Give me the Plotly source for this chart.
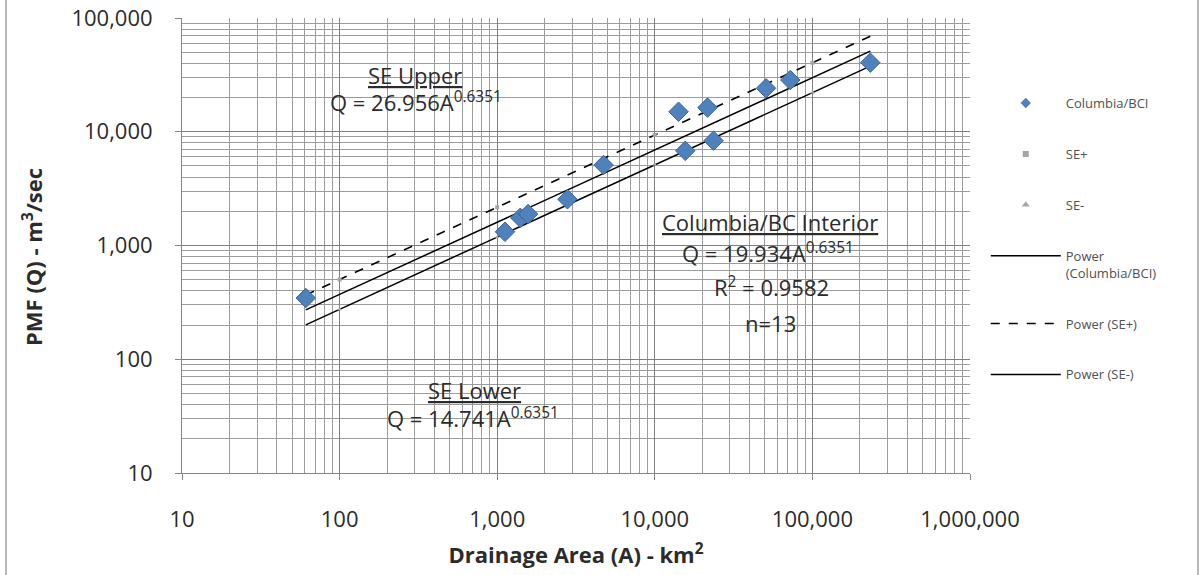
import plotly.graph_objects as go

# Columbia / BC Interior PMF observations
area_km2 = [61, 1120, 1400, 1570, 2790, 4730, 14150, 15600, 21600, 23600, 50800, 72400, 233000]
pmf_cms = [345, 1320, 1750, 1890, 2550, 5100, 15000, 6800, 16300, 8350, 24100, 28500, 40500]

# Power-law envelope coefficients: Q = a * A^b
coef_fit = 19.934
coef_upper = 26.956
coef_lower = 14.741
exponent = 0.6351

# Areas where the SE+/SE- helper series were tabulated
se_areas = [100, 1000, 10000, 100000]

x_ticks = [10, 100, 1000, 10000, 100000, 1000000]
x_labels = ["10", "100", "1,000", "10,000", "100,000", "1,000,000"]
y_ticks = [10, 100, 1000, 10000, 100000]
y_labels = ["10", "100", "1,000", "10,000", "100,000"]

FONT = "Open Sans"
TEXT = "#2B2B2B"
BLUE = "#4F81BD"
BLUE_EDGE = "#3B6396"
GRID_MAJOR = "#7F7F7F"
GRID_MINOR = "#9C9C9C"
GREY_MK = "#A5A5A5"


def power(a, xs):
    return [a * x ** exponent for x in xs]


def minor_vals(lo_exp, hi_exp):
    vals = []
    for e in range(lo_exp, hi_exp):
        for m in range(2, 10):
            vals.append(m * 10 ** e)
    return vals


trend_x = [min(area_km2), max(area_km2)]

fig = go.Figure()

# trend lines
fig.add_trace(go.Scatter(
    x=trend_x, y=power(coef_fit, trend_x), mode="lines",
    line=dict(color="black", width=1.5), showlegend=False, hoverinfo="skip"))
fig.add_trace(go.Scatter(
    x=trend_x, y=power(coef_upper, trend_x), mode="lines",
    line=dict(color="black", width=1.5, dash="dash"), showlegend=False, hoverinfo="skip"))
fig.add_trace(go.Scatter(
    x=trend_x, y=power(coef_lower, trend_x), mode="lines",
    line=dict(color="black", width=1.5), showlegend=False, hoverinfo="skip"))

# SE helper points
fig.add_trace(go.Scatter(
    x=se_areas, y=power(coef_upper, se_areas), mode="markers",
    marker=dict(symbol="square", size=4, color=GREY_MK), showlegend=False))
fig.add_trace(go.Scatter(
    x=se_areas, y=power(coef_lower, se_areas), mode="markers",
    marker=dict(symbol="triangle-up", size=4, color=GREY_MK), showlegend=False))

# observations
fig.add_trace(go.Scatter(
    x=area_km2, y=pmf_cms, mode="markers",
    marker=dict(symbol="diamond", size=15, color=BLUE, line=dict(color=BLUE_EDGE, width=1)),
    showlegend=False))

# legend entries
legend_items = [
    ("Columbia/BCI", dict(mode="markers", marker=dict(symbol="diamond", size=8, color=BLUE))),
    ("SE+", dict(mode="markers", marker=dict(symbol="square", size=6, color=GREY_MK))),
    ("SE-", dict(mode="markers", marker=dict(symbol="triangle-up", size=7, color=GREY_MK))),
    ("Power<br>(Columbia/BCI)", dict(mode="lines", line=dict(color="black", width=1.5))),
    ("Power (SE+)", dict(mode="lines", line=dict(color="black", width=1.5, dash="dash"))),
    ("Power (SE-)", dict(mode="lines", line=dict(color="black", width=1.5))),
]
for i, (name, style) in enumerate(legend_items):
    fig.add_trace(go.Scatter(x=[None], y=[None], name=name, legendgroup=f"g{i}", **style))

ann_font = dict(family=FONT, size=22, color=TEXT)
annotations = [
    dict(x=2.478, y=4.499, text="<u>SE Upper</u>"),
    dict(x=2.485, y=4.27, text="Q = 26.956A<sup>0.6351</sup>"),
    dict(x=4.731, y=3.207, text="<u>Columbia/BC Interior</u>"),
    dict(x=4.718, y=2.935, text="Q = 19.934A<sup>0.6351</sup>"),
    dict(x=4.740, y=2.64, text="R<sup>2</sup> = 0.9582"),
    dict(x=4.735, y=2.319, text="n=13"),
    dict(x=2.859, y=1.730, text="<u>SE Lower</u>"),
    dict(x=2.846, y=1.485, text="Q = 14.741A<sup>0.6351</sup>"),
]
for a in annotations:
    fig.add_annotation(xref="x", yref="y", showarrow=False, font=ann_font, **a)

# vertical axis title
fig.add_annotation(
    xref="paper", yref="paper", x=-0.189, y=0.475, xanchor="center", yanchor="middle",
    text="<b>PMF (Q) - m<sup>3</sup>/sec</b>", textangle=-90, showarrow=False,
    font=dict(family=FONT, size=22, color=TEXT))

axis_common = dict(
    type="log",
    showline=True, linecolor="#868686", linewidth=1,
    showgrid=True, gridcolor=GRID_MAJOR, gridwidth=1,
    ticks="outside", ticklen=6, tickcolor="#868686",
    tickfont=dict(family=FONT, size=22, color=TEXT),
    zeroline=False, mirror=False,
)

fig.update_xaxes(
    range=[1, 6], tickmode="array", tickvals=x_ticks, ticktext=x_labels,
    minor=dict(tickmode="array", tickvals=minor_vals(1, 6), showgrid=True,
               gridcolor=GRID_MINOR, gridwidth=1, ticks=""),
    ticklabelstandoff=21,
    title=dict(text="<b>Drainage Area (A) - km<sup>2</sup></b>",
               font=dict(family=FONT, size=22, color=TEXT), standoff=15),
    **axis_common)
fig.update_yaxes(
    range=[1, 5], tickmode="array", tickvals=y_ticks, ticktext=y_labels,
    minor=dict(tickmode="array", tickvals=minor_vals(1, 5), showgrid=True,
               gridcolor=GRID_MINOR, gridwidth=1, ticks=""),
    ticklabelstandoff=18,
    **axis_common)

# outer chart frame
for px in (6, 1198):
    xp = (px - 182) / 788
    fig.add_shape(type="line", xref="paper", yref="paper", x0=xp, x1=xp,
                  y0=-0.3, y1=1.1, line=dict(color="#A0A0A0", width=1.5))

fig.update_layout(
    width=1199, height=575,
    margin=dict(l=182, r=229, t=18, b=102, autoexpand=False),
    plot_bgcolor="white", paper_bgcolor="white",
    legend=dict(
        x=1.02, y=0.846, xanchor="left", yanchor="top",
        font=dict(family=FONT, size=13, color="#505050"),
        itemwidth=70, tracegroupgap=31, valign="top",
        bgcolor="rgba(0,0,0,0)",
    ),
)

fig.write_html("out.html")
